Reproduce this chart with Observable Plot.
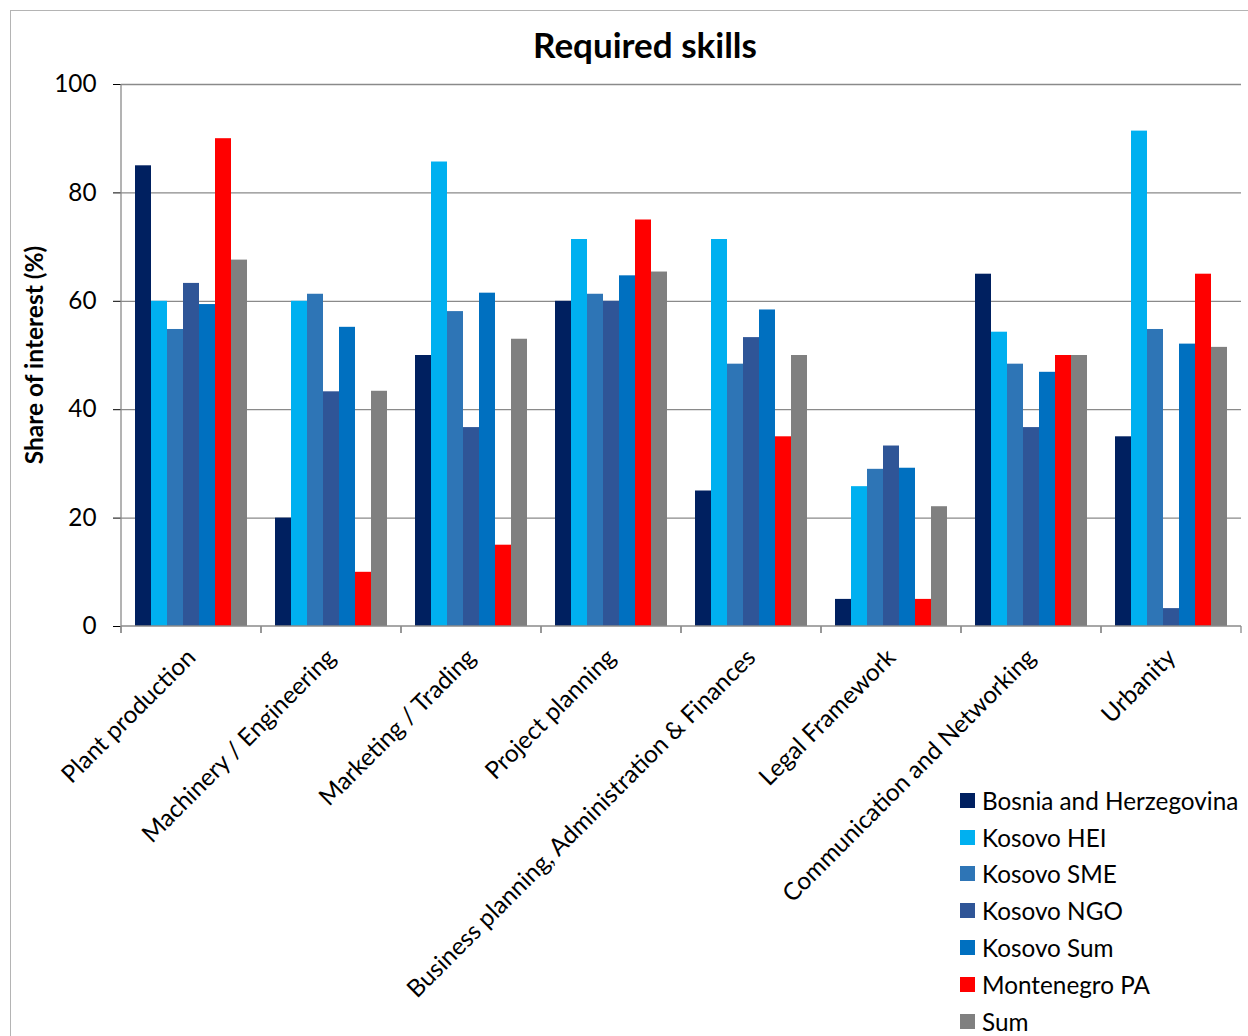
<!DOCTYPE html>
<html>
<head>
<meta charset="utf-8">
<script src="https://cdn.jsdelivr.net/npm/d3@7"></script>
<script src="https://cdn.jsdelivr.net/npm/@observablehq/plot@0.6"></script>
<style>
  html, body { margin: 0; padding: 0; background: #fff; }
  #wrap { position: relative; width: 1248px; height: 1036px; overflow: hidden; font-family: Lato, "Open Sans", sans-serif; color: #000; }
  #border { position: absolute; left: 10px; top: 10px; width: 1260px; height: 1060px; border: 1.5px solid #b4b4b4; box-sizing: border-box; }
  #title { position: absolute; left: 645px; top: 27px; transform: translateX(-50%); font-weight: 700; font-size: 35px; line-height: 1; white-space: nowrap; }
  #ylabel { position: absolute; left: 33px; top: 355px; transform: translate(-50%, -50%) rotate(-90deg); font-weight: 700; font-size: 24.5px; white-space: nowrap; }
  #legend { position: absolute; left: 960px; top: 782px; }
  .lrow { display: flex; align-items: center; height: 36.8px; font-size: 24.3px; white-space: nowrap; }
  .sw { width: 15px; height: 15px; margin-right: 7px; flex: none; }
  #chart { position: absolute; left: 0; top: 0; }
  #chart svg [aria-label="y-axis tick"] { stroke: #8a8a8a; }
</style>
</head>
<body>
<div id="wrap">
  <div id="border"></div>
  <div id="chart"></div>
  <div id="title">Required skills</div>
  <div id="ylabel">Share of interest (%)</div>
  <div id="legend"></div>
</div>
<script>
const categories = [
  "Plant production",
  "Machinery / Engineering",
  "Marketing / Trading",
  "Project planning",
  "Business planning, Administration & Finances",
  "Legal Framework",
  "Communication and Networking",
  "Urbanity"
];
const series = ["Bosnia and Herzegovina", "Kosovo HEI", "Kosovo SME", "Kosovo NGO", "Kosovo Sum", "Montenegro PA", "Sum"];
const colors = ["#002060", "#00B0F0", "#2E75B6", "#2F5597", "#0070C0", "#FF0000", "#808080"];

const bosnia     = [85, 20, 50, 60, 25, 5, 65, 35];
const kosovoHEI  = [60, 60, 85.7, 71.4, 71.4, 25.8, 54.3, 91.4];
const kosovoSME  = [54.8, 61.3, 58.1, 61.3, 48.4, 29, 48.4, 54.8];
const kosovoNGO  = [63.3, 43.3, 36.7, 60, 53.3, 33.3, 36.7, 3.3];
const kosovoSum  = [59.4, 55.2, 61.5, 64.7, 58.4, 29.2, 46.9, 52.1];
const montenegro = [90, 10, 15, 75, 35, 5, 50, 65];
const total      = [67.6, 43.4, 53, 65.4, 50, 22.1, 50, 51.5];

const yTicks = [0, 20, 40, 60, 80, 100];

const seriesValues = [bosnia, kosovoHEI, kosovoSME, kosovoNGO, kosovoSum, montenegro, total];
const rows = [];
categories.forEach((c, i) => {
  series.forEach((s, j) => rows.push({category: c, series: s, value: seriesValues[j][i]}));
});

const axisStroke = "#8a8a8a";

const chart = Plot.plot({
  width: 1248,
  height: 1036,
  marginLeft: 121,
  marginRight: 7,
  marginTop: 84,
  marginBottom: 410,
  style: {fontFamily: "Lato, 'Open Sans', sans-serif", fontSize: "24.3px", color: "#000", background: "transparent", overflow: "visible"},
  fx: {domain: categories, padding: 0, label: null, tickSize: 0, tickRotate: -45, tickPadding: 27},
  x: {domain: series, paddingInner: 0, paddingOuter: 0.74, axis: null},
  y: {domain: [0, 100], ticks: yTicks, tickSize: 8, tickPadding: 17, label: null},
  color: {domain: series, range: colors},
  marks: [
    Plot.ruleY(yTicks.filter(d => d > 0), {stroke: axisStroke, strokeWidth: 1.3}),
    Plot.barY(rows, {fx: "category", x: "series", y: "value", fill: "series"}),
    Plot.ruleY(categories, {
      fx: d => d,
      y: () => 0,
      render: (index, scales) => {
        const g = d3.create("svg:g").attr("stroke", axisStroke).attr("stroke-width", 1.3);
        const [xa, xb] = scales.x.range();
        const y0 = scales.y(0);
        const yTop = scales.y(100);
        g.append("line").attr("x1", xa).attr("x2", xb).attr("y1", y0).attr("y2", y0);
        g.append("line").attr("x1", xa).attr("x2", xa).attr("y1", y0).attr("y2", y0 + 7);
        g.append("line").attr("x1", xb).attr("x2", xb).attr("y1", y0).attr("y2", y0 + 7);
        if (index.length && index[0] === 0) {
          g.append("line").attr("x1", xa).attr("x2", xa).attr("y1", yTop).attr("y2", y0 + 7);
        }
        return g.node();
      }
    })
  ]
});
document.getElementById("chart").appendChild(chart);

const legend = document.getElementById("legend");
series.forEach((s, j) => {
  const row = document.createElement("div");
  row.className = "lrow";
  const sw = document.createElement("div");
  sw.className = "sw";
  sw.style.background = colors[j];
  const t = document.createElement("span");
  t.textContent = s;
  row.appendChild(sw);
  row.appendChild(t);
  legend.appendChild(row);
});
</script>
</body>
</html>
